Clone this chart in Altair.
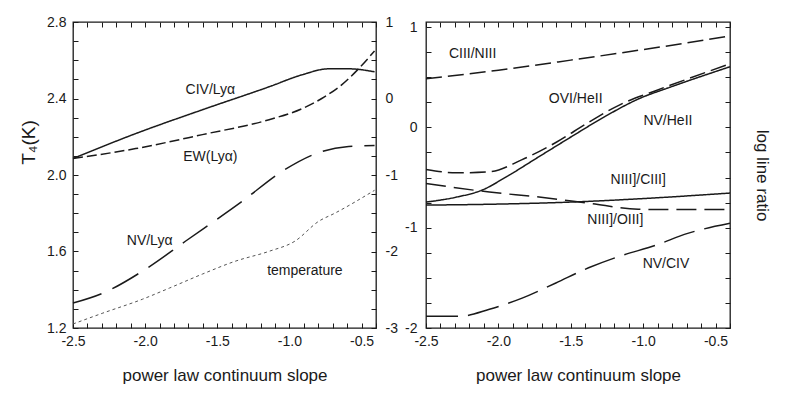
import altair as alt
import pandas as pd

FONT = "Liberation Sans"
INK = "#1a1a1a"

# ---------------- left panel (x: power law slope) ----------------
civ_lya_x = [-2.5, -2.066, -1.603, -1.141, -0.914, -0.728, -0.590, -0.41]
civ_lya_y = [-0.785, -0.459, -0.147, 0.153, 0.309, 0.388, 0.388, 0.349]

ew_lya_x = [-2.5, -2.066, -1.603, -1.141, -0.914, -0.776, -0.638, -0.521, -0.41]
ew_lya_y = [-0.785, -0.655, -0.472, -0.277, -0.134, 0.0, 0.179, 0.388, 0.622]

nv_lya_x = [-2.5, -2.293, -1.997, -1.721, -1.328, -1.052, -0.776, -0.590, -0.41]
nv_lya_y = [-2.674, -2.544, -2.231, -1.866, -1.345, -0.954, -0.694, -0.629, -0.616]

temp_x = [-2.5, -2.293, -2.017, -1.831, -1.603, -1.376, -1.141, -0.962, -0.797, -0.686, -0.41]
temp_t4 = [1.221, 1.278, 1.351, 1.409, 1.482, 1.549, 1.601, 1.654, 1.758, 1.80, 1.92]

left_names = ["CIV/Lyα", "EW(Lyα)", "NV/Lyα"]
left_label_text = ["CIV/Lyα", "EW(Lyα)", "NV/Lyα", "temperature"]
left_label_x = [-1.548, -1.548, -1.969, -0.893]
left_label_y = [0.114, -0.759, -1.866, -2.257]

# ---------------- right panel ----------------
ciii_niii_x = [-2.5, -2.0, -1.5, -1.0, -0.4]
ciii_niii_y = [0.485, 0.57, 0.67, 0.775, 0.91]

ovi_heii_x = [-2.5, -2.288, -2.062, -1.836, -1.603, -1.377, -1.151, -0.918, -0.692, -0.4]
ovi_heii_y = [-0.42, -0.453, -0.443, -0.322, -0.151, 0.05, 0.232, 0.363, 0.483, 0.634]

nv_heii_x = [-2.5, -2.288, -2.110, -1.945, -1.719, -1.493, -1.260, -1.034, -0.808, -0.4]
nv_heii_y = [-0.745, -0.695, -0.624, -0.493, -0.292, -0.091, 0.111, 0.282, 0.403, 0.604]

niii_ciii_x = [-2.5, -2.0, -1.5, -1.0, -0.4]
niii_ciii_y = [-0.775, -0.765, -0.745, -0.71, -0.655]

niii_oiii_x = [-2.5, -2.062, -1.719, -1.377, -1.034, -0.8, -0.4]
niii_oiii_y = [-0.56, -0.645, -0.695, -0.755, -0.816, -0.82, -0.82]

nv_civ_x = [-2.5, -2.267, -2.062, -1.836, -1.603, -1.377, -1.151, -0.918, -0.692, -0.4]
nv_civ_y = [-1.883, -1.883, -1.813, -1.702, -1.551, -1.40, -1.279, -1.178, -1.057, -0.957]

right_names = ["CIII/NIII", "OVI/HeII", "NV/HeII", "NIII]/CIII]", "NIII]/OIII]", "NV/CIV"]
right_label_x = [-2.178, -1.466, -0.829, -1.034, -1.192, -0.842]
right_label_y = [0.735, 0.282, 0.06, -0.524, -0.927, -1.36]

x_ticks = [round(-2.5 + 0.1 * i, 1) for i in range(22)]
t4_ticks = [round(1.2 + 0.1 * i, 1) for i in range(17)]
ratio_ticks_left = [-3 + 0.25 * i for i in range(17)]
ratio_ticks_right = [-2 + 0.25 * i for i in range(13)]


def frame(name, xs, ys):
    return pd.DataFrame({"series": name, "x": xs, "y": ys})


left_df = pd.concat([
    frame(left_names[0], civ_lya_x, civ_lya_y),
    frame(left_names[1], ew_lya_x, ew_lya_y),
    frame(left_names[2], nv_lya_x, nv_lya_y),
])
temp_df = frame("temperature", temp_x, temp_t4)
left_lab = pd.DataFrame({"label": left_label_text, "x": left_label_x, "y": left_label_y})

right_df = pd.concat([
    frame(right_names[0], ciii_niii_x, ciii_niii_y),
    frame(right_names[1], ovi_heii_x, ovi_heii_y),
    frame(right_names[2], nv_heii_x, nv_heii_y),
    frame(right_names[3], niii_ciii_x, niii_ciii_y),
    frame(right_names[4], niii_oiii_x, niii_oiii_y),
    frame(right_names[5], nv_civ_x, nv_civ_y),
])
right_lab = pd.DataFrame({"label": right_names, "x": right_label_x, "y": right_label_y})

W, H = 303, 306
TICK = 5

xscale = alt.Scale(domain=[-2.5, -0.4], nice=False, zero=False)
ratio_scale_left = alt.Scale(domain=[-3, 1], nice=False, zero=False)
t4_scale = alt.Scale(domain=[1.2, 2.8], nice=False, zero=False)
ratio_scale_right = alt.Scale(domain=[-2, 1.05], nice=False, zero=False)

half_expr = ("abs(datum.value*2 - round(datum.value*2)) < 0.0001 ? "
             "replace(format(datum.value, '.1f'), '\u2212', '-') : ''")
t4_expr = ("abs(datum.value/0.4 - round(datum.value/0.4)) < 0.0001 ? "
           "format(datum.value, '.1f') : ''")
int_expr = ("abs(datum.value - round(datum.value)) < 0.0001 ? "
            "replace(format(datum.value, 'd'), '\u2212', '-') : ''")

common = dict(domain=False, grid=False, tickSize=TICK, offset=-TICK, tickColor=INK,
              labelFont=FONT, labelColor=INK, titleFont=FONT, titleColor=INK,
              titleFontWeight="normal", labelOverlap=False, labelFlush=False)

x_bottom = alt.Axis(orient="bottom", values=x_ticks, labelExpr=half_expr,
                    title="power law continuum slope", labelFontSize=14,
                    labelPadding=6, titleFontSize=17, titlePadding=19, **common)
x_top = alt.Axis(orient="top", values=x_ticks, labels=False, title=None, **common)

dash_left = alt.StrokeDash("series:N", legend=None,
                           scale=alt.Scale(domain=left_names,
                                           range=[[1, 0], [10, 4], [30, 12]]))
dash_right = alt.StrokeDash("series:N", legend=None,
                            scale=alt.Scale(domain=right_names,
                                            range=[[16, 6], [16, 6], [1, 0], [1, 0], [20, 8], [32, 10]]))

left_lines = alt.Chart(left_df).mark_line(color=INK, strokeWidth=1.5,
                                          interpolate="monotone").encode(
    x=alt.X("x:Q", scale=xscale, axis=x_bottom),
    y=alt.Y("y:Q", scale=ratio_scale_left,
            axis=alt.Axis(orient="right", values=ratio_ticks_left, labelExpr=int_expr,
                          title=None, labelFontSize=14, labelPadding=9, **common)),
    strokeDash=dash_left,
    detail="series:N",
)

temp_line = alt.Chart(temp_df).mark_line(color="#555555", strokeWidth=1.0,
                                         strokeDash=[3, 3],
                                         interpolate="monotone").encode(
    x=alt.X("x:Q", scale=xscale, axis=x_top),
    y=alt.Y("y:Q", scale=t4_scale,
            axis=alt.Axis(orient="left", values=t4_ticks, labelExpr=t4_expr,
                          title="T\u2084(K)", titleFontSize=19, labelFontSize=14,
                          labelPadding=7, titlePadding=8, titleY=120, **common)),
)

left_text = alt.Chart(left_lab).mark_text(font=FONT, fontSize=14, color=INK).encode(
    x=alt.X("x:Q", scale=xscale, axis=None),
    y=alt.Y("y:Q", scale=ratio_scale_left, axis=None),
    text="label:N",
)

left = alt.layer(left_lines, temp_line, left_text).resolve_scale(
    y="independent").resolve_axis(x="independent", y="independent").properties(
    width=W, height=H)

right_lines = alt.Chart(right_df).mark_line(color=INK, strokeWidth=1.5,
                                            interpolate="monotone").encode(
    x=alt.X("x:Q", scale=xscale, axis=x_bottom),
    y=alt.Y("y:Q", scale=ratio_scale_right,
            axis=alt.Axis(orient="left", values=ratio_ticks_right, labelExpr=int_expr,
                          title=None, labelFontSize=14, labelPadding=9, **common)),
    strokeDash=dash_right,
    detail="series:N",
)

right_text = alt.Chart(right_lab).mark_text(font=FONT, fontSize=14, color=INK).encode(
    x=alt.X("x:Q", scale=xscale, axis=x_top),
    y=alt.Y("y:Q", scale=ratio_scale_right,
            axis=alt.Axis(orient="right", values=ratio_ticks_right, labels=False,
                          title="log line ratio", titleFontSize=17, titlePadding=22,
                          **common)),
    text="label:N",
)

right = alt.layer(right_lines, right_text).resolve_axis(
    x="independent", y="independent").properties(width=W + 1, height=H)

chart = alt.hconcat(left, right, spacing=4).resolve_scale(
    strokeDash="independent").properties(
    padding={"left": 10, "top": 6, "right": 5, "bottom": 5},
    background="white",
).configure_view(stroke=INK, strokeWidth=1.3)

chart.save("out.html", embed_options={"renderer": "svg", "actions": False})
